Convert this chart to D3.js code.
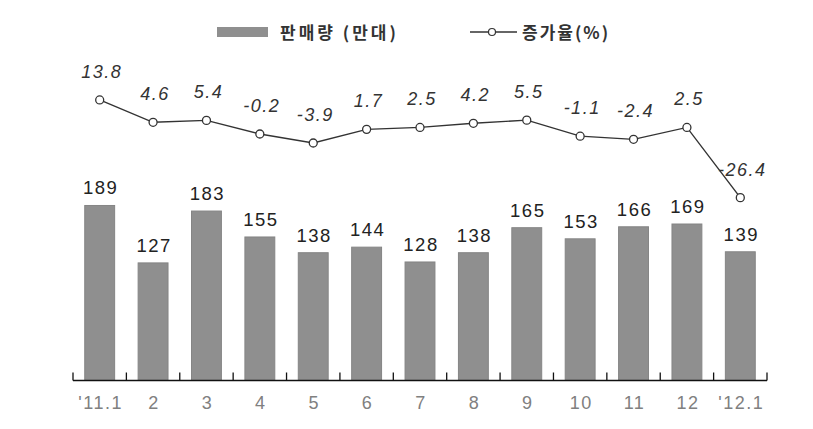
<!DOCTYPE html>
<html>
<head>
<meta charset="utf-8">
<script src="https://cdn.jsdelivr.net/npm/d3@7"></script>
<style>
html,body{margin:0;padding:0;background:#fff;}
svg{display:block;}
</style>
</head>
<body>
<svg id="chart" width="813" height="429"></svg>
<script>
const categories = ["'11.1","2","3","4","5","6","7","8","9","10","11","12","'12.1"];
const sales = [189,127,183,155,138,144,128,138,165,153,166,169,139];
const growth = [13.8,4.6,5.4,-0.2,-3.9,1.7,2.5,4.2,5.5,-1.1,-2.4,2.5,-26.4];
const legendLabels = ["판매량 (만대)", "증가율(%)"];

const svg = d3.select("#chart");
const x = d3.scaleBand().domain(categories).range([73, 767]).paddingInner(0.44).paddingOuter(0.22);
const yBar = d3.scaleLinear().domain([0, 200]).range([380.5, 380.5 - 185.2]);
const yLine = d3.scaleLinear().domain([-30, 20]).range([206.4, 84.9]);

// bars
svg.append("g").selectAll("rect").data(sales).join("rect")
  .attr("x", (d,i) => x(categories[i]))
  .attr("width", x.bandwidth())
  .attr("y", d => yBar(d))
  .attr("height", d => yBar(0) - yBar(d))
  .attr("fill", "#8f8f8f")
  .attr("stroke", "#858585")
  .attr("stroke-width", 1);

// bar labels
svg.append("g").selectAll("text").data(sales).join("text")
  .attr("x", (d,i) => x(categories[i]) + x.bandwidth()/2 + 1)
  .attr("y", d => yBar(d) - 11)
  .attr("text-anchor", "middle")
  .attr("font-family", "Liberation Sans, Arial, sans-serif")
  .attr("font-size", 18.5)
  .attr("letter-spacing", 1.5)
  .attr("fill", "#222")
  .text(d => d);

// axis
const bandStep = x.step();
const axisG = svg.append("g").attr("transform", `translate(0,${yBar(0)})`);
axisG.append("line").attr("x1", 73).attr("x2", 767).attr("stroke", "#111").attr("stroke-width", 1.6);
const tickPos = categories.map(c => x(c) + x.bandwidth()/2 - bandStep/2).concat([767]);
axisG.selectAll("line.tick").data(tickPos).join("line").attr("class","tick")
  .attr("x1", d => d).attr("x2", d => d).attr("y1", 0).attr("y2", -8)
  .attr("stroke", "#111").attr("stroke-width", 1.3);
axisG.selectAll("text").data(categories).join("text")
  .attr("x", d => x(d) + x.bandwidth()/2 + 1)
  .attr("y", 28)
  .attr("text-anchor", "middle")
  .attr("font-family", "Liberation Sans, Arial, sans-serif")
  .attr("font-size", 18)
  .attr("letter-spacing", 1.5)
  .attr("fill", "#808080")
  .text(d => d);

// line
const cx = (i) => x(categories[i]) + x.bandwidth()/2;
const line = d3.line().x((d,i) => cx(i)).y(d => yLine(d));
svg.append("path").datum(growth).attr("d", line)
  .attr("fill", "none").attr("stroke", "#333").attr("stroke-width", 1.4);
svg.append("g").selectAll("circle").data(growth).join("circle")
  .attr("cx", (d,i) => cx(i)).attr("cy", d => yLine(d)).attr("r", 4)
  .attr("fill", "#fff").attr("stroke", "#333").attr("stroke-width", 1.3);
svg.append("g").selectAll("text").data(growth).join("text")
  .attr("x", (d,i) => cx(i) + 2)
  .attr("y", d => yLine(d) - 22)
  .attr("text-anchor", "middle")
  .attr("font-family", "Liberation Sans, Arial, sans-serif")
  .attr("font-style", "italic")
  .attr("font-size", 18)
  .attr("letter-spacing", 1.5)
  .attr("fill", "#333")
  .text(d => d.toFixed(1));

// legend
const lg = svg.append("g");
lg.append("rect").attr("x", 217).attr("y", 27).attr("width", 51).attr("height", 10).attr("fill", "#8f8f8f");
lg.append("text").attr("x", 280).attr("y", 39)
  .attr("font-family", "Noto Sans CJK KR, sans-serif").attr("font-weight", 700)
  .attr("font-size", 17).attr("letter-spacing", 3).attr("fill", "#333")
  .text(legendLabels[0]);
lg.append("line").attr("x1", 470).attr("x2", 517).attr("y1", 32).attr("y2", 32).attr("stroke", "#333").attr("stroke-width", 1.3);
lg.append("circle").attr("cx", 492).attr("cy", 32).attr("r", 3.5).attr("fill", "#fff").attr("stroke", "#333").attr("stroke-width", 1.2);
lg.append("text").attr("x", 522).attr("y", 39)
  .attr("font-family", "Noto Sans CJK KR, sans-serif").attr("font-weight", 700)
  .attr("font-size", 17).attr("letter-spacing", 2).attr("fill", "#333")
  .text(legendLabels[1]);
</script>
</body>
</html>
